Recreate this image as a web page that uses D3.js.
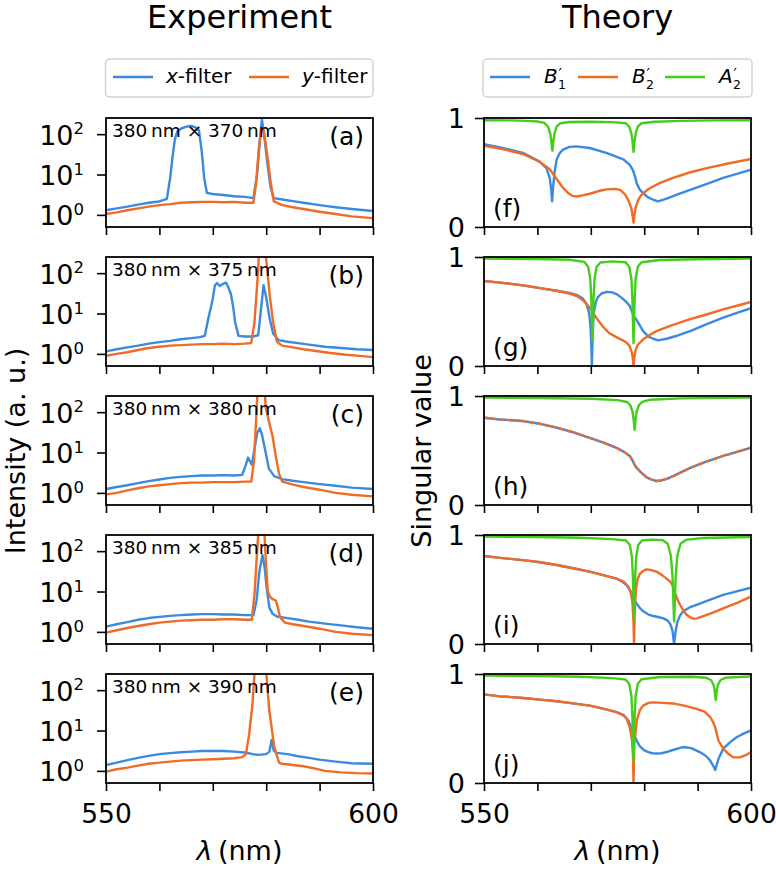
<!DOCTYPE html>
<html>
<head>
<meta charset="utf-8">
<script src="https://cdn.jsdelivr.net/npm/d3@7"></script>
<style>
  html, body { margin: 0; padding: 0; background: #fff; }
  svg { display: block; }
</style>
</head>
<body>
<div id="chart"></div>
<script>
// ---------------- DATA ----------------
const xTickValues = [550, 560, 570, 580, 590, 600];
const logTickValues = [1, 10, 100];
const logTickExponents = ["0", "1", "2"];
const linTickValues = [0, 1];

const sizeLabels = [
  "380\u2009nm \u00d7 370\u2009nm",
  "380\u2009nm \u00d7 375\u2009nm",
  "380\u2009nm \u00d7 380\u2009nm",
  "380\u2009nm \u00d7 385\u2009nm",
  "380\u2009nm \u00d7 390\u2009nm"
];
const leftLetters = ["(a)", "(b)", "(c)", "(d)", "(e)"];
const rightLetters = ["(f)", "(g)", "(h)", "(i)", "(j)"];

// Experiment: [wavelength nm, intensity a.u.]
const expA_x = [[550,1.3],[552,1.45],[554,1.6],[556,1.8],[558,2.0],[560,2.15],[561.4,2.5],[562.0,8],[562.5,30],[562.9,75],[563.4,120],[564.2,140],[565.2,155],[566,160],[566.8,145],[567.4,125],[567.9,40],[568.4,8],[568.9,3.5],[570,3.3],[572,3.1],[574,2.9],[576,2.8],[577.6,2.6],[578.3,10],[578.8,70],[579.2,230],[579.6,100],[580.2,20],[580.8,5],[581.4,2.6],[583,2.4],[585,2.2],[587,2.0],[590,1.75],[593,1.55],[596,1.4],[600,1.25]];
const expA_y = [[550,1.05],[552,1.15],[554,1.3],[556,1.45],[558,1.6],[560,1.75],[562,1.85],[564,2.0],[566,2.05],[568,2.1],[570,2.1],[572,2.05],[574,2.1],[576,2.0],[577.6,2.0],[578.1,6],[578.6,40],[579.1,140],[579.6,110],[580.2,30],[580.8,7],[581.4,2.2],[583,1.75],[585,1.55],[587,1.4],[590,1.2],[593,1.05],[596,0.92],[600,0.83]];

const expB_x = [[550,1.15],[552,1.3],[554,1.45],[556,1.6],[558,1.8],[560,1.95],[562,2.1],[564,2.3],[566,2.45],[567.6,2.6],[568.5,2.8],[569.2,8],[569.9,20],[570.4,50],[570.8,57],[571.3,48],[572,55],[572.5,58],[572.9,45],[573.4,30],[573.8,15],[574.2,6],[574.8,2.8],[576,2.7],[577.5,2.7],[578.5,2.9],[579.0,12],[579.5,50],[580.0,25],[580.6,8],[581.3,3.2],[582.3,2.2],[584,2.0],[586,1.85],[588,1.7],[591,1.5],[594,1.4],[597,1.3],[600,1.25]];
const expB_y = [[550,0.9],[552,1.0],[554,1.1],[556,1.25],[558,1.4],[560,1.5],[562,1.6],[564,1.65],[566,1.7],[568,1.75],[570,1.75],[572,1.8],[574,1.75],[576,1.8],[577.2,1.85],[577.8,6],[578.3,50],[578.7,400],[579.8,400],[580.2,120],[580.7,25],[581.3,6],[582,2.0],[583,1.6],[585,1.45],[587,1.3],[589,1.2],[592,1.05],[595,0.95],[598,0.88],[600,0.83]];

const expC_x = [[550,1.25],[552,1.4],[554,1.55],[556,1.75],[558,1.95],[560,2.15],[562,2.35],[564,2.5],[566,2.6],[568,2.7],[570,2.7],[572,2.75],[574,2.7],[575.5,2.8],[576.2,5],[576.6,7.5],[577.0,6],[577.3,5],[577.8,12],[578.3,30],[578.8,40],[579.2,28],[579.9,10],[580.5,4],[581.5,2.6],[583,2.2],[585,2.0],[587,1.85],[590,1.65],[593,1.5],[596,1.35],[600,1.25]];
const expC_y = [[550,0.92],[552,1.0],[554,1.15],[556,1.3],[558,1.45],[560,1.55],[562,1.65],[564,1.75],[566,1.8],[568,1.8],[570,1.85],[572,1.85],[574,1.85],[576,1.9],[577.2,1.9],[577.7,6],[578.1,60],[578.4,400],[579.7,400],[579.9,130],[580.5,60],[581.2,25],[581.8,8],[582.4,3],[583,1.9],[585,1.6],[587,1.4],[590,1.2],[593,1.0],[596,0.9],[600,0.82]];

const expD_x = [[550,1.35],[552,1.55],[554,1.75],[556,2.0],[558,2.2],[560,2.35],[562,2.5],[564,2.6],[566,2.7],[568,2.75],[570,2.75],[572,2.7],[574,2.7],[576,2.6],[577.6,2.6],[578.2,6],[578.7,30],[579.3,80],[579.7,40],[580.1,12],[580.6,4],[581.2,2.8],[582,2.4],[584,2.2],[586,2.0],[588,1.8],[591,1.6],[594,1.45],[597,1.3],[600,1.2]];
const expD_y = [[550,0.96],[552,1.1],[554,1.25],[556,1.4],[558,1.55],[560,1.7],[562,1.8],[564,1.9],[566,1.95],[568,2.0],[570,2.0],[572,2.05],[574,2.05],[576,2.0],[577.3,2.0],[577.8,8],[578.3,100],[578.6,400],[579.6,400],[580.0,40],[580.3,10],[580.7,7.5],[581.2,6.5],[581.8,6],[582.2,4],[582.6,2.3],[583.5,1.7],[585,1.55],[587,1.4],[590,1.2],[593,1.0],[596,0.9],[600,0.83]];

const expE_x = [[550,1.4],[552,1.6],[554,1.85],[556,2.1],[558,2.35],[560,2.6],[562,2.75],[564,2.9],[566,3.0],[568,3.1],[570,3.1],[572,3.1],[574,3.0],[576,2.85],[577.5,2.6],[578.5,2.5],[580,2.6],[580.6,3],[581,5.8],[581.4,3.2],[582,2.8],[584,2.6],[586,2.3],[588,2.1],[590,1.9],[593,1.7],[596,1.55],[600,1.5]];
const expE_y = [[550,0.96],[552,1.1],[554,1.2],[556,1.35],[558,1.5],[560,1.6],[562,1.7],[564,1.8],[566,1.85],[568,1.9],[570,1.95],[572,2.0],[574,2.05],[575.5,2.2],[576.2,2.6],[576.8,8],[577.4,40],[577.9,400],[579.9,400],[580.6,30],[581.5,4],[582.4,1.6],[583,1.5],[585,1.4],[587,1.3],[589,1.15],[591,1.0],[594,0.92],[597,0.88],[600,0.86]];

// Theory: [wavelength nm, singular value]
const thF_B1 = [[550,0.76],[553,0.73],[557.3,0.68],[560.4,0.60],[561.7,0.54],[562.3,0.45],[562.6,0.34],[562.75,0.235],[562.9,0.34],[563.2,0.50],[563.6,0.62],[564.2,0.68],[564.8,0.71],[566,0.735],[567.3,0.74],[569.8,0.725],[572.9,0.68],[576.1,0.62],[577.3,0.57],[577.9,0.52],[578.3,0.46],[578.6,0.40],[579.2,0.34],[579.8,0.31],[580.8,0.27],[581.7,0.25],[582.6,0.235],[584.2,0.26],[586,0.295],[588.6,0.34],[591.5,0.39],[594.8,0.45],[597.5,0.49],[600,0.526]];
const thF_B2 = [[550,0.745],[553,0.72],[557.3,0.67],[560.4,0.60],[562.3,0.53],[563.6,0.44],[564.8,0.36],[565.8,0.31],[566.6,0.285],[567.3,0.28],[568.5,0.29],[569.8,0.305],[571.5,0.33],[572.9,0.345],[574.5,0.35],[575.5,0.34],[576.4,0.30],[577.1,0.24],[577.6,0.17],[577.85,0.10],[578.0,0.04],[578.15,0.10],[578.4,0.18],[578.8,0.24],[579.4,0.29],[580.3,0.33],[581.2,0.36],[583,0.405],[585.4,0.45],[588.5,0.50],[591.7,0.54],[595.5,0.58],[600,0.624]];
const thF_A2 = [[550,0.98],[555,0.978],[558,0.974],[560,0.968],[561.3,0.955],[562.0,0.92],[562.4,0.86],[562.6,0.79],[562.7,0.74],[562.8,0.70],[562.9,0.74],[563.0,0.79],[563.2,0.86],[563.6,0.92],[564.3,0.952],[566,0.963],[570,0.966],[574,0.962],[576.5,0.952],[577.2,0.92],[577.6,0.86],[577.8,0.79],[577.9,0.74],[578.0,0.69],[578.1,0.74],[578.2,0.79],[578.4,0.86],[578.8,0.92],[579.5,0.952],[582,0.966],[587,0.974],[593,0.978],[600,0.98]];

const thG_B1 = [[550,0.78],[553,0.765],[557.3,0.74],[560.5,0.715],[563.6,0.69],[566,0.67],[567.5,0.65],[568.5,0.62],[569.2,0.57],[569.7,0.48],[569.95,0.36],[570.1,0.20],[570.2,0.0],[570.3,0.20],[570.45,0.40],[570.6,0.50],[570.9,0.58],[571.3,0.63],[572,0.665],[573,0.68],[574,0.675],[574.8,0.66],[575.8,0.625],[576.7,0.585],[577.3,0.55],[577.7,0.50],[578.1,0.455],[578.6,0.42],[579.2,0.37],[579.8,0.32],[580.8,0.27],[581.7,0.25],[582.6,0.235],[584.2,0.25],[586.3,0.28],[588.6,0.32],[591.5,0.38],[594.8,0.443],[597.5,0.49],[600,0.53]];
const thG_B2 = [[550,0.78],[553,0.765],[557.3,0.74],[560.5,0.715],[563.6,0.69],[566,0.665],[567.5,0.64],[568.6,0.60],[569.2,0.57],[569.8,0.535],[570.4,0.49],[571.2,0.43],[572.3,0.36],[573.5,0.30],[574.8,0.265],[575.8,0.24],[576.7,0.215],[577.3,0.18],[577.7,0.12],[577.9,0.06],[578.0,0.0],[578.15,0.08],[578.4,0.15],[578.8,0.195],[579.8,0.245],[581,0.285],[582.3,0.32],[585,0.37],[588.6,0.43],[591.5,0.47],[594.8,0.52],[597.5,0.555],[600,0.587]];
const thG_A2 = [[550,0.985],[560,0.982],[566,0.975],[568.8,0.955],[569.5,0.91],[569.9,0.80],[570.1,0.60],[570.2,0.40],[570.3,0.23],[570.4,0.40],[570.5,0.60],[570.7,0.80],[571.1,0.91],[571.8,0.95],[574,0.96],[576.5,0.952],[577.2,0.91],[577.6,0.80],[577.8,0.60],[577.9,0.40],[578.0,0.21],[578.1,0.40],[578.2,0.60],[578.4,0.80],[578.8,0.91],[579.5,0.952],[583,0.972],[590,0.98],[600,0.985]];

const thH_B12 = [[550,0.80],[553,0.785],[557.3,0.77],[560.5,0.745],[563.6,0.71],[566.5,0.67],[569.8,0.616],[572.5,0.57],[574.8,0.525],[576.3,0.485],[577.3,0.45],[577.9,0.40],[578.3,0.36],[578.6,0.34],[579.4,0.30],[580.4,0.255],[581.4,0.232],[582.3,0.22],[583.2,0.225],[584.5,0.245],[586.5,0.29],[588.6,0.34],[591.5,0.395],[594.8,0.45],[597.5,0.49],[600,0.525]];
const thH_A2 = [[550,0.985],[560,0.982],[570,0.975],[575,0.962],[576.8,0.945],[577.4,0.915],[577.8,0.86],[578.0,0.79],[578.1,0.74],[578.2,0.69],[578.3,0.74],[578.4,0.79],[578.6,0.86],[579.0,0.915],[579.6,0.945],[581,0.965],[587,0.978],[600,0.985]];

const thI_B1 = [[550,0.807],[553,0.79],[557.3,0.77],[560.5,0.75],[563.6,0.725],[566.7,0.695],[569.8,0.664],[572.5,0.63],[574.8,0.60],[575.8,0.575],[576.7,0.54],[577.3,0.50],[577.7,0.46],[578.2,0.40],[578.6,0.37],[579.2,0.33],[579.8,0.30],[580.8,0.27],[581.7,0.257],[582.6,0.248],[583.6,0.235],[584.4,0.215],[584.9,0.18],[585.3,0.12],[585.6,0.0],[585.9,0.12],[586.2,0.20],[586.7,0.26],[587.3,0.30],[588.5,0.335],[589.8,0.36],[592,0.40],[594.8,0.45],[597.5,0.485],[600,0.517]];
const thI_B2 = [[550,0.807],[553,0.79],[557.3,0.77],[560.5,0.75],[563.6,0.725],[566.7,0.695],[569.8,0.664],[572.5,0.63],[574.8,0.60],[576.1,0.575],[577.0,0.53],[577.5,0.47],[577.8,0.38],[578.0,0.20],[578.1,0.0],[578.25,0.35],[578.5,0.52],[578.8,0.60],[579.2,0.645],[579.8,0.67],[580.4,0.685],[581.2,0.68],[582.3,0.664],[583.4,0.63],[584.2,0.60],[584.9,0.57],[585.3,0.54],[585.8,0.465],[586.3,0.40],[586.7,0.36],[587.3,0.31],[587.9,0.27],[588.6,0.245],[589.2,0.232],[589.9,0.235],[590.4,0.245],[592.5,0.28],[594.8,0.327],[597.5,0.38],[600,0.434]];
const thI_A2 = [[550,0.985],[560,0.982],[568,0.975],[574,0.962],[576.6,0.95],[577.3,0.91],[577.7,0.80],[577.9,0.60],[578.0,0.40],[578.1,0.22],[578.2,0.40],[578.3,0.60],[578.5,0.80],[578.9,0.91],[579.6,0.95],[581.5,0.958],[583.5,0.952],[584.4,0.92],[585.0,0.81],[585.3,0.62],[585.45,0.42],[585.6,0.205],[585.75,0.42],[585.9,0.62],[586.2,0.81],[586.8,0.92],[587.8,0.955],[591,0.972],[600,0.982]];

const thJ_B1 = [[550,0.813],[553,0.795],[557.3,0.78],[560.5,0.765],[563.6,0.75],[566.7,0.73],[569.8,0.71],[572.5,0.68],[574.8,0.65],[576.1,0.625],[577.0,0.575],[577.6,0.51],[578.3,0.42],[578.8,0.37],[579.2,0.336],[580,0.30],[580.8,0.284],[581.5,0.273],[582.3,0.27],[583.2,0.273],[584.2,0.284],[585.5,0.305],[587.3,0.33],[588.8,0.32],[590.4,0.284],[591.5,0.25],[592.3,0.21],[592.9,0.16],[593.3,0.12],[593.6,0.17],[593.9,0.22],[594.8,0.315],[596,0.37],[597.3,0.42],[598.7,0.455],[600,0.483]];
const thJ_B2 = [[550,0.813],[553,0.795],[557.3,0.78],[560.5,0.765],[563.6,0.75],[566.7,0.73],[569.8,0.71],[572.5,0.68],[574.8,0.65],[576.1,0.62],[576.7,0.59],[577.3,0.51],[577.7,0.40],[577.9,0.25],[578.0,0.0],[578.15,0.35],[578.6,0.575],[579.2,0.67],[579.8,0.71],[580.8,0.735],[581.7,0.74],[583.5,0.735],[585.4,0.73],[587.5,0.71],[589.8,0.68],[591.3,0.655],[592.3,0.61],[592.9,0.56],[593.3,0.51],[593.6,0.45],[593.9,0.39],[594.8,0.315],[595.7,0.27],[596.7,0.235],[597.9,0.235],[599,0.255],[600,0.284]];
const thJ_A2 = [[550,0.985],[560,0.982],[568,0.975],[574,0.962],[576.5,0.95],[577.2,0.91],[577.6,0.80],[577.8,0.60],[577.9,0.40],[578.0,0.21],[578.1,0.40],[578.2,0.60],[578.4,0.80],[578.8,0.91],[579.5,0.952],[583,0.972],[589,0.975],[591.6,0.965],[592.5,0.945],[593.0,0.90],[593.2,0.85],[593.3,0.80],[593.4,0.76],[593.5,0.80],[593.6,0.85],[593.8,0.90],[594.3,0.945],[595.2,0.965],[600,0.978]];

const expPanels = [
  [expA_x, expA_y], [expB_x, expB_y], [expC_x, expC_y], [expD_x, expD_y], [expE_x, expE_y]
];
const thPanels = [
  [thF_B1, thF_B2, thF_A2], [thG_B1, thG_B2, thG_A2], [thH_B12, thH_B12, thH_A2],
  [thI_B1, thI_B2, thI_A2], [thJ_B1, thJ_B2, thJ_A2]
];

// ---------------- STYLE / LAYOUT ----------------
const C_BLUE = "#3a8ae0", C_ORANGE = "#f06b26", C_GREEN = "#45cd1e";
const FONT = "DejaVu Sans, sans-serif";
const W = 776, H = 870;
const panelH = 109, panelStep = 139, firstTop = 118;
const L = {x0: 106, x1: 373}, R = {x0: 484, x1: 751};

const svg = d3.select("#chart").append("svg")
  .attr("width", W).attr("height", H)
  .style("font-family", FONT);

const defs = svg.append("defs");

function styleAxis(g) {
  g.attr("font-size", null).attr("font-family", null);
  g.select(".domain").remove();
  g.selectAll(".tick line").attr("stroke", "#000").attr("stroke-width", 1.6);
  g.selectAll(".tick text").attr("fill", "#000");
}

function drawPanel(side, i) {
  const top = firstTop + i * panelStep, bottom = top + panelH;
  const P = side === "L" ? L : R;
  const x = d3.scaleLinear().domain([550, 600]).range([P.x0, P.x1]);
  const y = side === "L"
    ? d3.scaleLog().domain([Math.pow(10, -0.3), Math.pow(10, 2.4)]).range([bottom, top])
    : d3.scaleLinear().domain([0, 1]).range([bottom, top]);

  const clipId = `clip-${side}-${i}`;
  defs.append("clipPath").attr("id", clipId).append("rect")
    .attr("x", P.x0).attr("y", top).attr("width", P.x1 - P.x0).attr("height", panelH);

  const line = d3.line().x(d => x(d[0])).y(d => y(d[1]));
  const lg = svg.append("g").attr("clip-path", `url(#${clipId})`)
    .attr("fill", "none").attr("stroke-width", 2.4)
    .attr("stroke-linejoin", "round").attr("stroke-linecap", "butt");

  if (side === "L") {
    const [xs, ys] = expPanels[i];
    lg.append("path").datum(xs).attr("d", line).attr("stroke", C_BLUE);
    lg.append("path").datum(ys).attr("d", line).attr("stroke", C_ORANGE);
  } else {
    const [b1, b2, a2] = thPanels[i];
    lg.append("path").datum(b1).attr("d", line).attr("stroke", C_BLUE);
    const p2 = lg.append("path").datum(b2).attr("d", line).attr("stroke", C_ORANGE);
    if (i === 2) p2.attr("stroke-dasharray", "5,2.6");
    lg.append("path").datum(a2).attr("d", line).attr("stroke", C_GREEN);
  }

  // bottom axis
  const last = i === 4;
  const gx = svg.append("g").attr("transform", `translate(0,${bottom})`)
    .call(d3.axisBottom(x).tickValues(xTickValues).tickSize(8).tickSizeOuter(0)
      .tickFormat(d => (last && (d === 550 || d === 600)) ? String(d) : ""));
  styleAxis(gx);
  gx.selectAll(".tick text").attr("dy", null).attr("y", 40)
    .attr("font-size", 26.5).attr("text-anchor", "middle");

  // left axis
  if (side === "L") {
    const gy = svg.append("g").attr("transform", `translate(${P.x0},0)`)
      .call(d3.axisLeft(y).tickValues(logTickValues).tickSize(9).tickFormat(() => ""));
    styleAxis(gy);
    gy.selectAll(".tick text").each(function(d, k) {
      const t = d3.select(this);
      t.attr("dy", null).attr("x", -22).attr("y", 10)
        .attr("font-size", 27).attr("text-anchor", "end").text("10");
      t.append("tspan").attr("dy", -10.3).attr("font-size", 16.5).text(logTickExponents[k]);
    });
  } else {
    const gy = svg.append("g").attr("transform", `translate(${P.x0},0)`)
      .call(d3.axisLeft(y).tickValues(linTickValues).tickSize(9).tickFormat(d3.format("d")));
    styleAxis(gy);
    gy.selectAll(".tick text").attr("dy", null).attr("x", -19).attr("y", 9.7)
      .attr("font-size", 27).attr("text-anchor", "end");
  }

  // frame
  svg.append("rect").attr("x", P.x0).attr("y", top)
    .attr("width", P.x1 - P.x0).attr("height", panelH)
    .attr("fill", "none").attr("stroke", "#000").attr("stroke-width", 1.8);

  // annotations
  if (side === "L") {
    svg.append("text").attr("x", P.x0 + 6).attr("y", top + 19.3)
      .attr("font-size", 18.5).text(sizeLabels[i]);
    svg.append("text").attr("x", P.x1 - 9).attr("y", top + 27)
      .attr("font-size", 25).attr("text-anchor", "end").text(leftLetters[i]);
  } else {
    svg.append("text").attr("x", P.x0 + 9).attr("y", bottom - 10)
      .attr("font-size", 25).text(rightLetters[i]);
  }
}

for (let i = 0; i < 5; i++) { drawPanel("L", i); drawPanel("R", i); }

// titles
svg.append("text").attr("x", (L.x0 + L.x1) / 2).attr("y", 28).attr("text-anchor", "middle")
  .attr("font-size", 32).text("Experiment");
svg.append("text").attr("x", (R.x0 + R.x1) / 2).attr("y", 28).attr("text-anchor", "middle")
  .attr("font-size", 32).text("Theory");

// x labels
[L, R].forEach(P => {
  const t = svg.append("text").attr("x", (P.x0 + P.x1) / 2).attr("y", 860)
    .attr("text-anchor", "middle").attr("font-size", 27);
  t.append("tspan").attr("font-style", "italic").text("\u03bb");
  t.append("tspan").text("\u2009(nm)");
});

// y labels
svg.append("text").attr("transform", "translate(25,451) rotate(-90)")
  .attr("text-anchor", "middle").attr("font-size", 27).text("Intensity (a. u.)");
svg.append("text").attr("transform", "translate(431,451) rotate(-90)")
  .attr("text-anchor", "middle").attr("font-size", 27).text("Singular value");

// legends
function legendBox(x0, x1) {
  svg.append("rect").attr("x", x0).attr("y", 59).attr("width", x1 - x0).attr("height", 38)
    .attr("rx", 4).attr("fill", "#fff").attr("fill-opacity", 0.8)
    .attr("stroke", "#d3d3d3").attr("stroke-width", 1.5);
}
function legendLine(x, color) {
  svg.append("line").attr("x1", x).attr("x2", x + 40).attr("y1", 77).attr("y2", 77)
    .attr("stroke", color).attr("stroke-width", 2.4);
}
legendBox(105.5, 373);
legendLine(113, C_BLUE);
legendLine(249, C_ORANGE);
[[166, "x"], [302, "y"]].forEach(([x, v]) => {
  const t = svg.append("text").attr("x", x).attr("y", 83).attr("font-size", 20);
  t.append("tspan").attr("font-style", "italic").text(v);
  t.append("tspan").text("-filter");
});

legendBox(483, 752);
const rightLegend = [[490, C_BLUE, "B", "1"], [578, C_ORANGE, "B", "2"], [665, C_GREEN, "A", "2"]];
rightLegend.forEach(([x, c, letter, sub]) => {
  legendLine(x, c);
  const tx = x + 54;
  const t = svg.append("text").attr("x", tx).attr("y", 83).attr("font-size", 20);
  t.append("tspan").attr("font-style", "italic").text(letter);
  t.append("tspan").attr("x", tx + 14.5).attr("y", 80).attr("font-size", 15).text("\u2032");
  t.append("tspan").attr("x", tx + 14).attr("y", 88.5).attr("font-size", 12.5).text(sub);
});
</script>
</body>
</html>
